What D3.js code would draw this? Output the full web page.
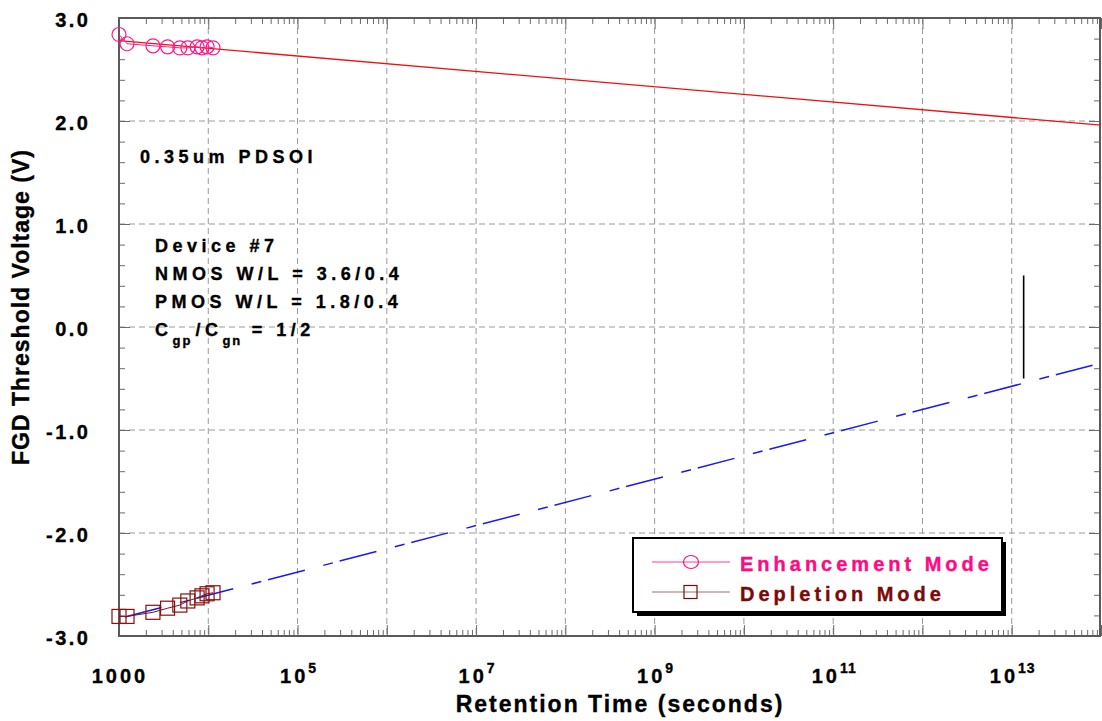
<!DOCTYPE html>
<html>
<head>
<meta charset="utf-8">
<script src="https://cdn.jsdelivr.net/npm/d3@7"></script>
<style>
  html, body { margin: 0; padding: 0; background: #fff; }
  svg { display: block; font-family: "Liberation Sans", Arial, Helvetica, sans-serif; font-weight: bold; }
  svg text { stroke: currentColor; stroke-width: 0.35px; }
</style>
</head>
<body>
<svg id="chart" width="1102" height="721"></svg>
<script>
// Retention measurements (seconds) and FGD threshold voltages (V)
const retentionTime = [1000, 1230, 2400, 3500, 4800, 5900, 7500, 8500, 9700, 11300];
const enhancementVt = [2.84, 2.75, 2.73, 2.72, 2.71, 2.71, 2.72, 2.71, 2.72, 2.71];
const depletionVt   = [-2.81, -2.81, -2.77, -2.73, -2.70, -2.66, -2.63, -2.61, -2.59, -2.58];

// Extrapolated trend lines (end points)
const fitTime = [1e3, 1e14];
const enhancementFit = [2.78, 1.96];
const depletionFit = [-2.83, -0.35];

// Vertical window marker
const markerTime = [1.36e13, 1.36e13];
const markerVt = [0.5, -0.5];

// Axis ticks and labels
const xMajorExps = [3, 4, 5, 6, 7, 8, 9, 10, 11, 12, 13, 14];
const xLabelExps = [3, 5, 7, 9, 11, 13];
const yTicks = [-3, -2, -1, 0, 1, 2, 3];
const yTickLabels = ["-3.0", "-2.0", "-1.0", "0.0", "1.0", "2.0", "3.0"];

const annotations = [
  { text: "0.35um PDSOI", x: 140, y: 163 },
  { text: "Device #7", x: 155, y: 252 },
  { text: "NMOS W/L = 3.6/0.4", x: 155, y: 280 },
  { text: "PMOS W/L = 1.8/0.4", x: 155, y: 308 }
];

const legendItems = [
  { name: "Enhancement Mode", color: "#ff0a84", lineColor: "#ff3c9c", shape: "circle" },
  { name: "Depletion Mode", color: "#7a0a0a", lineColor: "#b06a6a", shape: "square" }
];

const svg = d3.select("#chart");
const plotLeft = 119, plotRight = 1101, plotTop = 18, plotBottom = 636;

const x = d3.scaleLog().domain([1e3, 1e14]).range([plotLeft, plotRight]);
const y = d3.scaleLinear().domain([-3, 3]).range([plotBottom, plotTop]);

const pink = "#ff1a8c", maroon = "#8b0f0f";

// Grid
const grid = svg.append("g").attr("stroke", "#9a9a9a").attr("stroke-width", 1)
  .attr("stroke-dasharray", "6,4");
grid.selectAll("line.v").data(xMajorExps.slice(1, -1)).join("line").attr("class", "v")
  .attr("x1", d => x(Math.pow(10, d))).attr("x2", d => x(Math.pow(10, d)))
  .attr("y1", plotTop).attr("y2", plotBottom);
grid.selectAll("line.h").data(yTicks.slice(1, -1)).join("line").attr("class", "h")
  .attr("y1", d => y(d)).attr("y2", d => y(d))
  .attr("x1", plotLeft).attr("x2", plotRight);

// Tick sets
const minorX = [];
for (let e = 3; e < 14; e++) for (let m = 2; m <= 9; m++) minorX.push(m * Math.pow(10, e));
const majorX = xMajorExps.map(e => Math.pow(10, e));
const minorY = d3.range(-30, 31, 2).map(v => v / 10).filter(v => !yTicks.includes(v));

function styleAxis(g) {
  g.select(".domain").remove();
  g.selectAll(".tick line").attr("stroke", "#6a6a6a").attr("stroke-width", 1);
  g.selectAll(".tick text").remove();
}

svg.append("g").attr("transform", `translate(0,${plotBottom})`)
  .call(d3.axisBottom(x).tickValues(minorX).tickSize(-6).tickFormat("")).call(styleAxis);
svg.append("g").attr("transform", `translate(0,${plotBottom})`)
  .call(d3.axisBottom(x).tickValues(majorX).tickSize(-11).tickFormat("")).call(styleAxis);
svg.append("g").attr("transform", `translate(0,${plotTop})`)
  .call(d3.axisTop(x).tickValues(minorX).tickSize(-6).tickFormat("")).call(styleAxis);
svg.append("g").attr("transform", `translate(0,${plotTop})`)
  .call(d3.axisTop(x).tickValues(majorX).tickSize(-11).tickFormat("")).call(styleAxis);
svg.append("g").attr("transform", `translate(${plotLeft},0)`)
  .call(d3.axisLeft(y).tickValues(minorY).tickSize(-6).tickFormat("")).call(styleAxis);
svg.append("g").attr("transform", `translate(${plotLeft},0)`)
  .call(d3.axisLeft(y).tickValues(yTicks).tickSize(-11).tickFormat("")).call(styleAxis);
svg.append("g").attr("transform", `translate(${plotRight - 1},0)`)
  .call(d3.axisRight(y).tickValues(minorY).tickSize(-6).tickFormat("")).call(styleAxis);
svg.append("g").attr("transform", `translate(${plotRight - 1},0)`)
  .call(d3.axisRight(y).tickValues(yTicks).tickSize(-11).tickFormat("")).call(styleAxis);

// Frame
svg.append("rect").attr("x", plotLeft).attr("y", plotTop)
  .attr("width", plotRight - 1 - plotLeft).attr("height", plotBottom - plotTop)
  .attr("fill", "none").attr("stroke", "#5a5a5a").attr("stroke-width", 2);

// Y tick labels
svg.append("g").selectAll("text").data(yTicks).join("text")
  .attr("x", 90.5).attr("y", d => y(d) + 9)
  .attr("text-anchor", "end").attr("font-size", 20).attr("letter-spacing", 2.5)
  .attr("fill", "#000").style("color", "#000")
  .text((d, i) => yTickLabels[i]);

// X tick labels
const xl = svg.append("g").selectAll("text").data(xLabelExps).join("text")
  .attr("x", d => x(Math.pow(10, d)) + 1)
  .attr("y", 683).attr("text-anchor", "middle").attr("font-size", 20)
  .attr("letter-spacing", 3).attr("fill", "#000").style("color", "#000");
xl.each(function(d) {
  const t = d3.select(this);
  if (d === 3) { t.text("1000"); return; }
  t.append("tspan").text("10");
  t.append("tspan").attr("dy", -10).attr("font-size", 14).attr("letter-spacing", 1).text(d);
});

// Axis titles
svg.append("text").attr("x", 620).attr("y", 712).attr("text-anchor", "middle")
  .attr("font-size", 23).attr("letter-spacing", 2).style("color", "#000")
  .text("Retention Time (seconds)");
svg.append("text").attr("transform", "translate(29,307) rotate(-90)")
  .attr("text-anchor", "middle").attr("font-size", 23).attr("letter-spacing", 1)
  .style("color", "#000")
  .text("FGD Threshold Voltage (V)");

// Annotations
svg.append("g").selectAll("text").data(annotations).join("text")
  .attr("x", d => d.x).attr("y", d => d.y)
  .attr("font-size", 18).attr("letter-spacing", 4.5).attr("fill", "#000").style("color", "#000")
  .text(d => d.text);
const cap = svg.append("text").attr("x", 155).attr("y", 336)
  .attr("font-size", 18).attr("letter-spacing", 4.5).style("color", "#000");
cap.append("tspan").text("C");
cap.append("tspan").attr("dy", 9).attr("font-size", 13).attr("letter-spacing", 2).text("gp");
cap.append("tspan").attr("dy", -9).attr("dx", 3).text("/C");
cap.append("tspan").attr("dy", 9).attr("font-size", 13).attr("letter-spacing", 2).text("gn");
cap.append("tspan").attr("dy", -9).text(" = 1/2");

// Trend lines
const line = d3.line().x(d => x(d[0])).y(d => y(d[1]));
svg.append("path").datum(fitTime.map((t, i) => [t, enhancementFit[i]]))
  .attr("d", line).attr("fill", "none").attr("stroke", "#ee1010").attr("stroke-width", 1.3);
svg.append("path").datum(fitTime.map((t, i) => [t, depletionFit[i]]))
  .attr("d", line).attr("fill", "none").attr("stroke", "#1a1aee").attr("stroke-width", 1.5)
  .attr("stroke-dasharray", "38,19,10,7").attr("stroke-dashoffset", -6);

// Vertical marker
svg.append("path").datum(markerTime.map((t, i) => [t, markerVt[i]]))
  .attr("d", line).attr("stroke", "#000").attr("stroke-width", 1.6);

// Measured series
const enh = retentionTime.map((t, i) => [t, enhancementVt[i]]);
const dep = retentionTime.map((t, i) => [t, depletionVt[i]]);
svg.append("path").datum(enh).attr("d", line).attr("fill", "none")
  .attr("stroke", pink).attr("stroke-width", 1);
svg.append("path").datum(dep).attr("d", line).attr("fill", "none")
  .attr("stroke", maroon).attr("stroke-width", 1);
svg.append("g").selectAll("circle").data(enh).join("circle")
  .attr("cx", d => x(d[0])).attr("cy", d => y(d[1])).attr("r", 7)
  .attr("fill", "none").attr("stroke", pink).attr("stroke-width", 1.2);
svg.append("g").selectAll("rect").data(dep).join("rect")
  .attr("x", d => x(d[0]) - 7).attr("y", d => y(d[1]) - 7)
  .attr("width", 14).attr("height", 14)
  .attr("fill", "none").attr("stroke", maroon).attr("stroke-width", 1.2);

// Legend
const lg = svg.append("g");
lg.append("rect").attr("x", 637).attr("y", 542).attr("width", 369).attr("height", 74).attr("fill", "#000");
lg.append("rect").attr("x", 633).attr("y", 538).attr("width", 369).attr("height", 74)
  .attr("fill", "#fff").attr("stroke", "#000").attr("stroke-width", 2);
const li = lg.selectAll("g.item").data(legendItems).join("g").attr("class", "item")
  .attr("transform", (d, i) => `translate(0,${562 + i * 30})`);
li.append("line").attr("x1", 652).attr("x2", 730).attr("stroke", d => d.lineColor).attr("stroke-width", 1.2);
li.filter(d => d.shape === "circle").append("ellipse").attr("cx", 691).attr("rx", 7.5).attr("ry", 6.5)
  .attr("fill", "none").attr("stroke", d => d.color).attr("stroke-width", 1.2);
li.filter(d => d.shape === "square").append("rect").attr("x", 684).attr("y", -6.5)
  .attr("width", 13).attr("height", 13)
  .attr("fill", "none").attr("stroke", d => d.color).attr("stroke-width", 1.2);
li.append("text").attr("x", 740).attr("y", 9).attr("font-size", 20).attr("letter-spacing", 4)
  .attr("fill", d => d.color).style("color", d => d.color).text(d => d.name);
</script>
</body>
</html>
